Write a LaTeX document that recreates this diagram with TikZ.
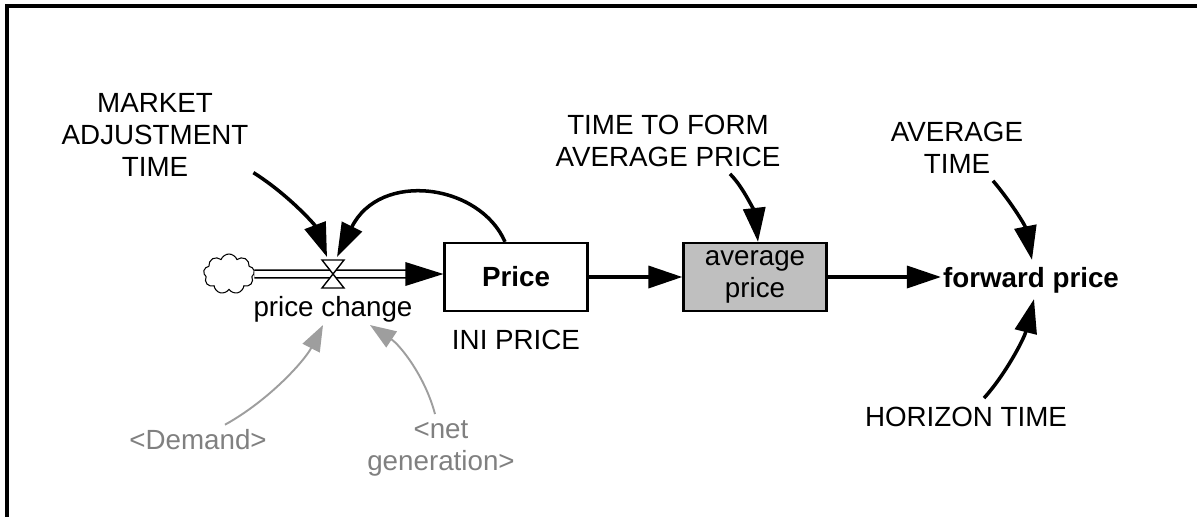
\documentclass[tikz,border=0pt]{standalone}
\usepackage{fontspec}
\setmainfont{Liberation Sans}
\usetikzlibrary{arrows.meta,shapes.symbols}

\begin{document}
\begin{tikzpicture}[x=0.02cm, y=-0.02cm,
		every node/.style={font=\fontsize{15.8}{18.2}\selectfont, align=center, inner sep=1pt},
		link/.style={line width=2pt, -{Triangle[length=0.68cm, width=0.44cm]}},
		ghostlink/.style={line width=1.1pt, black!38, -{Triangle[length=0.52cm, width=0.38cm]}},
		stock/.style={draw, line width=1.3pt, minimum width=2.86cm, minimum height=1.36cm},
		ghost/.style={text=black!50}]
			\useasboundingbox (0,0) rectangle (1197,517);
			%frame
			\draw[line width=1.8pt] (7,517) -- (7,6) -- (1197,6);
			
			%stocks and flow
			\node (price) at (516, 277) [stock]{\textbf{Price}};
			\node (avg) at (755, 277) [stock, fill=black!25]{average\\price};
			\node (fwd) at (1031, 280){\textbf{forward price}};
			\node (cloud) at (229, 274) [cloud, cloud puffs=9, cloud puff arc=140, draw, line width=0.6pt, minimum width=1.02cm, minimum height=0.8cm, inner sep=0pt]{};
			\coordinate (valve) at (333, 274);
			\coordinate (valvetop) at (333, 260);
			\coordinate (pipeend) at (price.west |- valve);
			\node (pc) at (333, 309){price change};
			\node (ini) at (516, 340){INI PRICE};
			
			%constants
			\node (mat) at (155, 135){MARKET\\ADJUSTMENT\\TIME};
			\node (tfap) at (668, 141){TIME TO FORM\\AVERAGE PRICE};
			\node (avt) at (957, 148){AVERAGE\\TIME};
			\node (hor) at (966, 417){HORIZON TIME};
			\node (dem) at (198, 440) [ghost]{<Demand>};
			\node (netgen) at (441, 448) [ghost]{<net\\generation>};
			
			%pipe and valve
			\draw[line width=0.9pt, double, double distance=3.4pt] (cloud.east) -- ([shift={(-30,0)}]pipeend);
			\fill (pipeend) -- ++(-38,-12) -- ++(0,24) -- cycle;
			\filldraw[fill=white, line width=0.8pt] (valve) -- ++(-11,-14) -- ++(22,0) -- cycle
				(valve) -- ++(-11,14) -- ++(22,0) -- cycle;
			
			%links
			\draw[link] ([shift={(3,-6)}]mat.south east) .. controls +(35,22) and +(-12,-32) .. ([shift={(-6,-3)}]valvetop);
			\draw[link] ([shift={(-11,0)}]price.north) .. controls +(-25,-58) and +(43,-87) .. ([shift={(4,-3)}]valvetop);
			\draw[link] (price.east) -- (avg.west);
			\draw[link] (avg.east) -- (avg.east -| fwd.west);
			\draw[link] ([shift={(62,5)}]tfap.south) .. controls +(15,15) and +(-3,-27) .. ([shift={(3,0)}]avg.north);
			\draw[link] ([shift={(36,5)}]avt.south) .. controls +(17,20) and +(-7,-35) .. ([shift={(1,-5)}]fwd.north);
			\draw[link] ([shift={(18,-7)}]hor.north) .. controls +(21,-23) and +(-10,40) .. ([shift={(3,4)}]fwd.south);
			\draw[ghostlink] ([shift={(27,-3)}]dem.north) .. controls +(45,-25) and +(-18,35) .. ([shift={(-10,1)}]pc.south);
			\draw[ghostlink] ([shift={(-6,-4)}]netgen.north) .. controls +(-10,-38) and +(30,20) .. ([shift={(37,1)}]pc.south);
		\end{tikzpicture}
\end{document}
